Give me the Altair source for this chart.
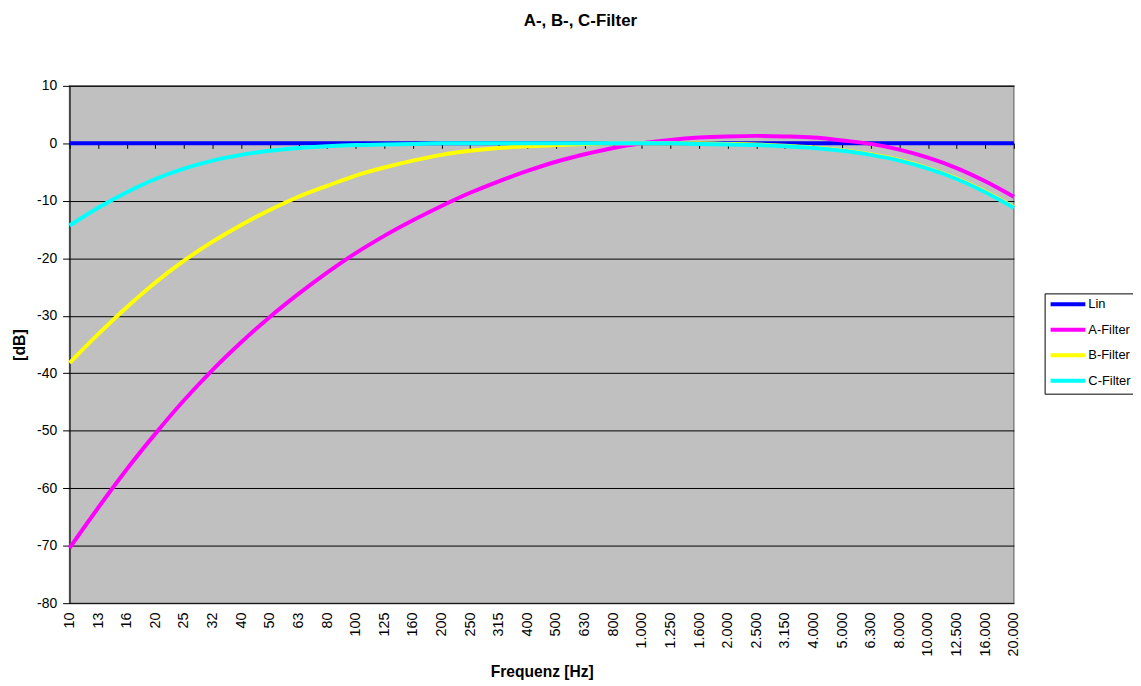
import altair as alt
import pandas as pd

freqs = ["10", "13", "16", "20", "25", "32", "40", "50", "63", "80",
         "100", "125", "160", "200", "250", "315", "400", "500", "630", "800",
         "1.000", "1.250", "1.600", "2.000", "2.500", "3.150", "4.000", "5.000",
         "6.300", "8.000", "10.000", "12.500", "16.000", "20.000"]

lin = [0.0] * 34
a_filter = [-70.4, -63.4, -56.7, -50.5, -44.7, -39.4, -34.6, -30.2, -26.2, -22.5,
            -19.1, -16.1, -13.4, -10.9, -8.6, -6.6, -4.8, -3.2, -1.9, -0.8,
            0.0, 0.6, 1.0, 1.2, 1.3, 1.2, 1.0, 0.5, -0.1, -1.1,
            -2.5, -4.3, -6.6, -9.3]
b_filter = [-38.2, -33.2, -28.5, -24.2, -20.4, -17.1, -14.2, -11.6, -9.3, -7.4,
            -5.6, -4.2, -3.0, -2.0, -1.3, -0.8, -0.5, -0.3, -0.1, 0.0,
            0.0, 0.0, 0.0, -0.1, -0.2, -0.4, -0.7, -1.2, -1.9, -2.9,
            -4.3, -6.1, -8.4, -11.1]
c_filter = [-14.3, -11.2, -8.5, -6.2, -4.4, -3.0, -2.0, -1.3, -0.8, -0.5,
            -0.3, -0.2, -0.1, 0.0, 0.0, 0.0, 0.0, 0.0, 0.0, 0.0,
            0.0, 0.0, -0.1, -0.2, -0.3, -0.5, -0.8, -1.3, -2.0, -3.0,
            -4.4, -6.2, -8.5, -11.2]

series_names = ["Lin", "A-Filter", "B-Filter", "C-Filter"]
series_colors = ["#0000FF", "#FF00FF", "#FFFF00", "#00FFFF"]

rows = []
for name, vals in zip(series_names, [lin, a_filter, b_filter, c_filter]):
    for i, (f, v) in enumerate(zip(freqs, vals)):
        rows.append({"Frequenz": f, "dB": v, "Serie": name,
                     "order": series_names.index(name)})
df = pd.DataFrame(rows)

FONT = "Liberation Sans"
W, H = 951, 521

xscale = alt.Scale(type="point", padding=0, domain=freqs)
yscale = alt.Scale(domain=[-80, 10], nice=False, zero=False)

lines = alt.Chart(df).mark_line(strokeWidth=4, interpolate="monotone").encode(
    x=alt.X("Frequenz:N", sort=freqs, scale=xscale,
            axis=alt.Axis(orient="bottom", title="Frequenz [Hz]", labelAngle=-90,
                          labelAlign="right", labelBaseline="middle", labelPadding=9,
                          tickSize=0, domain=False, grid=False, labelFont=FONT,
                          labelFontSize=14.5, labelColor="black", titleFont=FONT,
                          titleFontSize=15.7, titleFontWeight="bold", titleColor="black",
                          titlePadding=9, labelOverlap=False)),
    y=alt.Y("dB:Q", scale=yscale,
            axis=alt.Axis(title="[dB]", values=list(range(-80, 11, 10)),
                          labelExpr="toString(datum.value)",
                          grid=True, gridColor="black", gridWidth=1,
                          domainColor="black", domainWidth=1, tickColor="black",
                          tickSize=7, labelPadding=6, labelFont=FONT, labelFontSize=14,
                          labelColor="black", titleFont=FONT, titleFontSize=16,
                          titleFontWeight="bold", titleColor="black", titlePadding=9)),
    color=alt.Color("Serie:N", sort=series_names,
                    scale=alt.Scale(domain=series_names, range=series_colors),
                    legend=alt.Legend(title=None, orient="none", legendX=982, legendY=209,
                                      strokeColor="black", fillColor="white",
                                      padding=4, symbolType="M-1,0L6,0", symbolSize=100,
                                      symbolStrokeWidth=4, rowPadding=9.7,
                                      labelOffset=26, labelFont=FONT, labelFontSize=13,
                                      labelColor="black", cornerRadius=0)),
    order=alt.Order("order:Q"),
)

zero_ticks = alt.Chart(df[df["Serie"] == "Lin"]).mark_line(opacity=0).encode(
    x=alt.X("Frequenz:N", sort=freqs, scale=xscale,
            axis=alt.Axis(orient="bottom", title=None, labels=False, domain=False,
                          grid=False, tickColor="black", tickSize=5,
                          offset=-(H * 80 / 90))),
    y=alt.Y("dB:Q", scale=yscale),
)

chart = alt.layer(zero_ticks, lines).resolve_axis(x="independent").properties(
    width=W, height=H,
    autosize=alt.AutoSizeParams(type="none"),
    padding={"left": 62, "top": 76, "right": 120, "bottom": 81},
    background="white",
    title=alt.TitleParams("A-, B-, C-Filter", anchor="middle", dx=39, offset=49,
                          font=FONT, fontSize=17, fontWeight="bold", color="black"),
).configure_view(fill="#C0C0C0", stroke="#808080", strokeWidth=1.5)

chart.save("out.html", embed_options={"renderer": "svg", "actions": False})
